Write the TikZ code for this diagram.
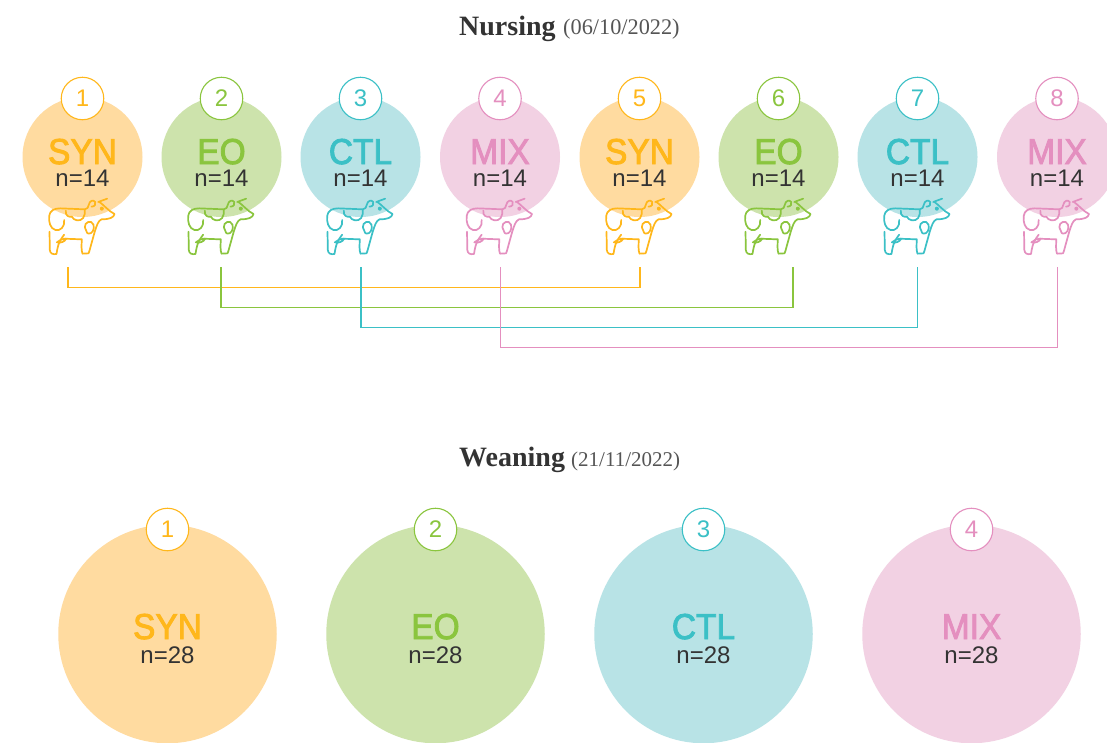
\documentclass[tikz,border=0pt]{standalone}
\usepackage{fontspec}
\setmainfont{Liberation Sans}
\newfontfamily\titlefont{Liberation Serif}
\newfontfamily\labelfont[FakeBold=2.5]{Liberation Sans}
\definecolor{yelL}{HTML}{FFDBA0}\definecolor{yelD}{HTML}{FFB71B}
\definecolor{greL}{HTML}{CDE3AC}\definecolor{greD}{HTML}{8AC53E}
\definecolor{teaL}{HTML}{B8E3E6}\definecolor{teaD}{HTML}{3BC0C6}
\definecolor{pinL}{HTML}{F2D1E3}\definecolor{pinD}{HTML}{E48FBF}
\definecolor{ink}{HTML}{333333}
\definecolor{datec}{HTML}{555555}
\tikzset{
  x=1pt,y=-1pt,
  disc/.style={circle,inner sep=0pt,outer sep=0pt,minimum size=#1},
  badgetxt/.style={anchor=base,inner sep=0pt,font=\fontsize{24}{24}\selectfont},
  grp/.style={anchor=base,inner sep=0pt,font=\labelfont\fontsize{36}{36}\selectfont,xscale=.93},
  cnt/.style={anchor=base,inner sep=0pt,text=ink,font=\fontsize{24}{24}\selectfont},
  title/.style={anchor=base west,inner sep=0pt,text=ink},
  datet/.style={anchor=base west,inner sep=0pt,text=datec},
  link/.style={line width=1.3pt,line join=miter},
  pics/cow/.style={code={
    \begin{scope}[scale=1/3,shift={(-189,-261)},draw=#1,line width=1.7pt,line cap=round,line join=round]
      % rump, back, ear, head, front leg, belly
      \draw (134,450) .. controls (137,470) and (122,484) .. (108,480)
        .. controls (92,476) and (87,455) .. (89,438)
        .. controls (91,422) and (104,415) .. (122,415)
        -- (196,418) .. controls (204,418) and (206,412) .. (208,404)
        .. controls (210,392) and (222,388) .. (227,396)
        .. controls (230,402) and (226,410) .. (216,410);
      \draw (236,396) -- (263,386);
      \draw (240,396) .. controls (252,404) and (268,424) .. (285,432)
        .. controls (283,442) and (272,448) .. (246,448)
        .. controls (236,452) and (232,466) .. (226,484)
        -- (216,520) .. controls (212,534) and (210,544) .. (207,550)
        -- (189,551) .. controls (185,540) and (186,525) .. (187,508)
        -- (132,506);
      % hind leg and udder
      \draw (90,485) -- (91,540) .. controls (92,551) and (100,554) .. (111,552)
        .. controls (114,535) and (114,520) .. (134,494);
      \draw (112,517) .. controls (120,510) and (130,505) .. (140,506)
        .. controls (136,515) and (124,520) .. (112,517);
      % saddle patch
      \draw (139,422) .. controls (136,438) and (150,442) .. (157,440)
        .. controls (162,452) and (182,456) .. (191,444)
        .. controls (197,436) and (196,428) .. (196,419);
      % shoulder patch
      \draw (196,472) .. controls (194,456) and (216,448) .. (222,464)
        .. controls (226,478) and (218,492) .. (207,491)
        .. controls (199,490) and (203,480) .. (196,472);
      \fill[#1] (247,416) circle (6);
    \end{scope}}}
}
\begin{document}
\begin{tikzpicture}
\clip (0,0) rectangle (1107,742);
\fill[white] (0,0) rectangle (1107,742);
% titles
\node[title] (t1) at (459,35) {\titlefont\fontsize{28}{28}\selectfont\bfseries Nursing};
\node[datet] (t1d) at (563,34) {\titlefont\fontsize{22.3}{22}\selectfont (06/10/2022)};
\node[title] (t2) at (459,466) {\titlefont\fontsize{28}{28}\selectfont\bfseries Weaning};
\node[datet] (t2d) at (571,466) {\titlefont\fontsize{21}{21}\selectfont (21/11/2022)};
% nursing groups
\foreach \i/\cx/\lc/\dc/\lab in {1/82.5/yelL/yelD/SYN,2/221.5/greL/greD/EO,3/360.5/teaL/teaD/CTL,4/500/pinL/pinD/MIX,5/639.5/yelL/yelD/SYN,6/778.5/greL/greD/EO,7/917.5/teaL/teaD/CTL,8/1057/pinL/pinD/MIX}{
  \node[disc=120pt,fill=\lc] (n\i) at (\cx,157) {};
  \node[disc=42.5pt,fill=white,draw=\dc,line width=1.1pt] (nb\i) at (\cx,98.5) {};
  \node[badgetxt,text=\dc] (nbt\i) at (\cx,106.5) {\i};
  \node[grp,text=\dc] (nl\i) at (\cx,164) {\lab};
  \node[cnt] (nc\i) at (\cx,186) {n=14};
  \pic at (\cx,157) {cow={\dc}};
}
% weaning groups
\foreach \i/\cx/\lc/\dc/\lab in {1/167.5/yelL/yelD/SYN,2/435.5/greL/greD/EO,3/703.5/teaL/teaD/CTL,4/971.5/pinL/pinD/MIX}{
  \node[disc=218.5pt,fill=\lc] (w\i) at (\cx,634) {};
  \node[disc=42.5pt,fill=white,draw=\dc,line width=1.1pt] (wb\i) at (\cx,529.5) {};
  \node[badgetxt,text=\dc] (wbt\i) at (\cx,537.5) {\i};
  \node[grp,text=\dc] (wl\i) at (\cx,639) {\lab};
  \node[cnt] (wc\i) at (\cx,663) {n=28};
}
% connector ends
\foreach \nm/\cx in {a1/68,a2/221,a3/361,a4/500.5,a5/640,a6/793,a7/917.5,a8/1057.5}{
  \coordinate (\nm) at (\cx,267);
}
\draw[link,yelD] (a1) |- (68,287.5) -- (640,287.5) -- (a5);
\draw[link,greD] (a2) |- (221,307.5) -- (793,307.5) -- (a6);
\draw[link,teaD] (a3) |- (361,327.5) -- (917.5,327.5) -- (a7);
\draw[link,pinD] (a4) |- (500.5,347.5) -- (1057.5,347.5) -- (a8);
\end{tikzpicture}
\end{document}
